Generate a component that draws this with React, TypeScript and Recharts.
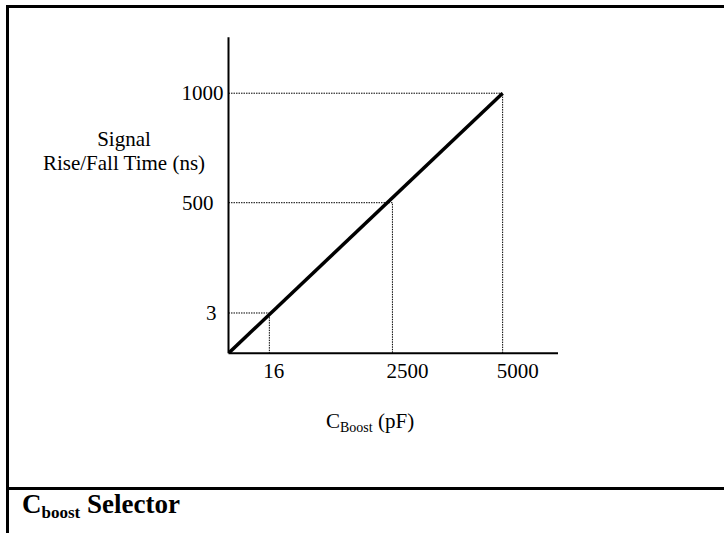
import React from 'react';
import { LineChart, Line, XAxis, YAxis } from 'recharts';

// schematic axis: tick labels and where they sit along each axis (0..100 = origin..last tick)
const capLabels = ['16', '2500', '5000'];
const capPos = [14.9, 59.8, 100];
const timeLabels = ['3', '500', '1000'];
const timePos = [15.5, 57.9, 100];

// small horizontal nudges of the y tick labels, as in the original drawing
const timeLabelShift = [0, -3, 7];

const X_MAX = 120.2;
const Y_MAX = 121.5;

const transfer = [
  { x: 0, y: 0 },
  { x: capPos[capPos.length - 1], y: timePos[timePos.length - 1] },
];

const guides = capPos.map((cx, i) => [
  { x: 0, y: timePos[i] },
  { x: cx, y: timePos[i] },
  { x: cx, y: 0 },
]);

const FONT = '"Liberation Serif", "Times New Roman", serif';

function capLabel(v: number) {
  const i = capPos.indexOf(v);
  return i >= 0 ? capLabels[i] : '';
}

const XTick = (props: any) => {
  const { x, y, payload } = props;
  return (
    <text x={x - 6} y={y} dy={25} textAnchor="start" fontFamily={FONT} fontSize={21} fill="#000">
      {capLabel(payload.value)}
    </text>
  );
};

const YTick = (props: any) => {
  const { x, y, payload } = props;
  const i = timePos.indexOf(payload.value);
  if (i < 0) return null;
  return (
    <text x={x + timeLabelShift[i]} y={y} dy={7} textAnchor="end" fontFamily={FONT} fontSize={21} fill="#000">
      {timeLabels[i]}
    </text>
  );
};

export default function App() {
  return (
    <div style={{ position: 'absolute', left: 0, top: 0, width: 724, height: 533, background: '#fff' }}>
      <div
        style={{
          position: 'absolute',
          left: 6,
          top: 5,
          width: 724 - 9,
          height: 533 - 8,
          borderTop: '3px solid #000',
          borderLeft: '3px solid #000',
        }}
      />
      <div style={{ position: 'absolute', left: 6, top: 487, width: 724 - 6, height: 3, background: '#000' }} />
      <div
        style={{
          position: 'absolute',
          left: 22,
          top: 486,
          fontFamily: FONT,
          fontWeight: 'bold',
          fontSize: 27,
          lineHeight: '36px',
          whiteSpace: 'nowrap',
        }}
      >
        C<sub style={{ fontSize: 17, verticalAlign: '-5px' }}>boost</sub> Selector
      </div>

      <div style={{ position: 'absolute', left: 0, top: 0 }}>
        <LineChart
          width={724}
          height={486}
          margin={{ top: 37.3, right: 166, left: 148.5, bottom: 72.7 }}
        >
          <XAxis
            type="number"
            dataKey="x"
            domain={[0, X_MAX]}
            ticks={capPos}
            interval={0}
            height={60}
            axisLine={{ stroke: '#000', strokeWidth: 2 }}
            tickLine={false}
            tickSize={0}
            tickMargin={0}
            tick={<XTick />}
            allowDataOverflow
          />
          <YAxis
            type="number"
            dataKey="y"
            domain={[0, Y_MAX]}
            ticks={timePos}
            interval={0}
            width={80}
            axisLine={{ stroke: '#000', strokeWidth: 2 }}
            tickLine={false}
            tickSize={0}
            tickMargin={12}
            tick={<YTick />}
            allowDataOverflow
          />
          {guides.map((g, i) => (
            <Line
              key={i}
              data={g}
              dataKey="y"
              type="linear"
              stroke="#000"
              strokeWidth={1}
              strokeDasharray="1.5 1"
              dot={false}
              activeDot={false}
              isAnimationActive={false}
            />
          ))}
          <Line
            data={transfer}
            dataKey="y"
            type="linear"
            stroke="#000"
            strokeWidth={3.5}
            dot={false}
            activeDot={false}
            isAnimationActive={false}
          />
          <g fontFamily={FONT} fontSize={21} fill="#000">
            <text x={124} y={146} textAnchor="middle">Signal</text>
            <text x={124} y={170} textAnchor="middle">Rise/Fall Time (ns)</text>
            <text x={326} y={428}>
              C<tspan fontSize={14} dy={4}>Boost</tspan>
              <tspan dy={-4}> (pF)</tspan>
            </text>
          </g>
        </LineChart>
      </div>
    </div>
  );
}
